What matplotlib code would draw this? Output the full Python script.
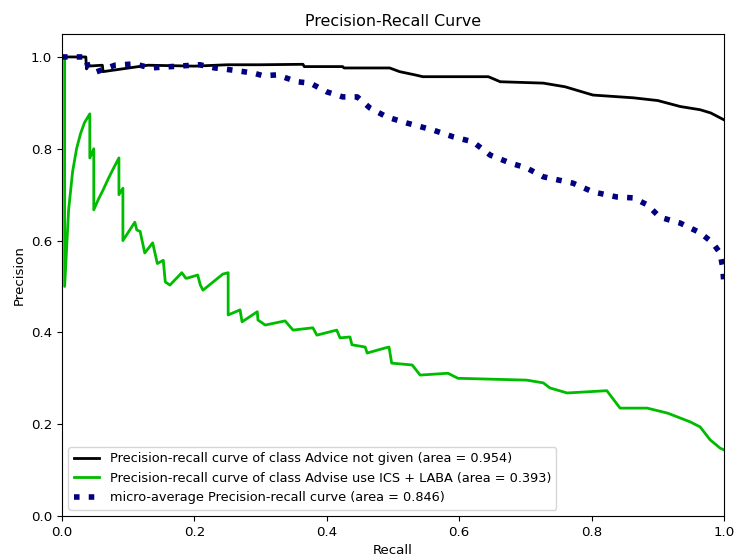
# Precision-recall curves for the two classes plus the micro-average
import numpy as np
import matplotlib
matplotlib.use('Agg')
import matplotlib.pyplot as plt

# Class "Advice not given"
recall_advice = [0.0, 0.036, 0.037, 0.039, 0.061, 0.062, 0.13, 0.20, 0.25, 0.30,
                 0.364, 0.366, 0.424, 0.426, 0.495, 0.51, 0.533, 0.545, 0.644,
                 0.662, 0.727, 0.76, 0.802, 0.863, 0.90, 0.934, 0.964, 0.98, 1.0]
precision_advice = [1.0, 1.0, 0.974, 0.980, 0.982, 0.968, 0.982, 0.980, 0.983, 0.983,
                    0.984, 0.979, 0.979, 0.976, 0.976, 0.968, 0.961, 0.957, 0.957,
                    0.946, 0.943, 0.935, 0.917, 0.911, 0.905, 0.892, 0.885, 0.878, 0.863]

# Class "Advise use ICS + LABA"
recall_ics = [0.0, 0.004, 0.004, 0.010, 0.016, 0.022, 0.028, 0.034, 0.042, 0.042,
              0.048, 0.048, 0.055, 0.062, 0.070, 0.078, 0.086, 0.086, 0.092, 0.092,
              0.110, 0.113, 0.118, 0.125, 0.137, 0.144, 0.153, 0.156, 0.163, 0.181,
              0.187, 0.189, 0.205, 0.209, 0.213, 0.243, 0.251, 0.251, 0.269, 0.272,
              0.295, 0.296, 0.307, 0.337, 0.349, 0.379, 0.385, 0.415, 0.420, 0.435,
              0.438, 0.458, 0.461, 0.488, 0.494, 0.498, 0.529, 0.541, 0.583, 0.598,
              0.702, 0.727, 0.737, 0.763, 0.823, 0.843, 0.884, 0.915, 0.949, 0.964,
              0.979, 0.994, 1.0]
precision_ics = [1.0, 1.0, 0.50, 0.667, 0.75, 0.80, 0.833, 0.857, 0.876, 0.78,
                 0.80, 0.667, 0.69, 0.71, 0.735, 0.758, 0.78, 0.70, 0.714, 0.60,
                 0.64, 0.623, 0.62, 0.573, 0.595, 0.55, 0.557, 0.51, 0.503, 0.53,
                 0.518, 0.518, 0.525, 0.503, 0.492, 0.527, 0.53, 0.438, 0.449, 0.423,
                 0.445, 0.427, 0.416, 0.425, 0.405, 0.41, 0.394, 0.405, 0.388, 0.39,
                 0.373, 0.368, 0.355, 0.366, 0.368, 0.333, 0.329, 0.307, 0.311, 0.30,
                 0.296, 0.29, 0.279, 0.268, 0.273, 0.235, 0.235, 0.224, 0.205, 0.194,
                 0.166, 0.148, 0.144]

# Micro-average over both classes
recall_micro = [0.0, 0.036, 0.039, 0.051, 0.080, 0.110, 0.133, 0.208, 0.231, 0.254,
                0.289, 0.304, 0.325, 0.355, 0.375, 0.400, 0.424, 0.446, 0.465, 0.491,
                0.521, 0.560, 0.591, 0.621, 0.647, 0.677, 0.702, 0.727, 0.772, 0.802,
                0.838, 0.863, 0.884, 0.903, 0.934, 0.964, 0.983, 0.994, 0.998, 1.0]
precision_micro = [1.0, 1.0, 0.980, 0.967, 0.982, 0.985, 0.976, 0.983, 0.976, 0.972,
                   0.965, 0.959, 0.961, 0.946, 0.943, 0.924, 0.913, 0.913, 0.889, 0.869,
                   0.856, 0.841, 0.826, 0.815, 0.786, 0.769, 0.758, 0.739, 0.725, 0.706,
                   0.695, 0.693, 0.678, 0.651, 0.638, 0.617, 0.595, 0.573, 0.542, 0.503]

class_names = ['Advice not given', 'Advise use ICS + LABA']
class_areas = [0.954, 0.393]
micro_area = 0.846

fig = plt.figure(figsize=(7.34, 5.54), dpi=100)
ax = fig.add_axes([62 / 734, 38 / 554, 662 / 734, 482 / 554])

cmap = plt.get_cmap('nipy_spectral')
curves = [(recall_advice, precision_advice), (recall_ics, precision_ics)]
for i, (rec, prec) in enumerate(curves):
    ax.plot(rec, prec, lw=2, color=cmap(float(i) / len(curves)),
            label='Precision-recall curve of class {0} (area = {1:0.3f})'.format(
                class_names[i], class_areas[i]))

ax.plot(recall_micro, precision_micro, color='navy', linestyle=':', linewidth=4,
        label='micro-average Precision-recall curve (area = {0:0.3f})'.format(micro_area))

ax.set_xlim([0.0, 1.0])
ax.set_ylim([0.0, 1.05])
ax.set_title('Precision-Recall Curve', fontsize=11.4)
ax.set_xlabel('Recall', fontsize=9.6)
ax.set_ylabel('Precision', fontsize=9.6)
ax.tick_params(labelsize=9.6)
ax.legend(loc='lower left', fontsize=9.3)

fig.savefig('out.png', dpi=100)
